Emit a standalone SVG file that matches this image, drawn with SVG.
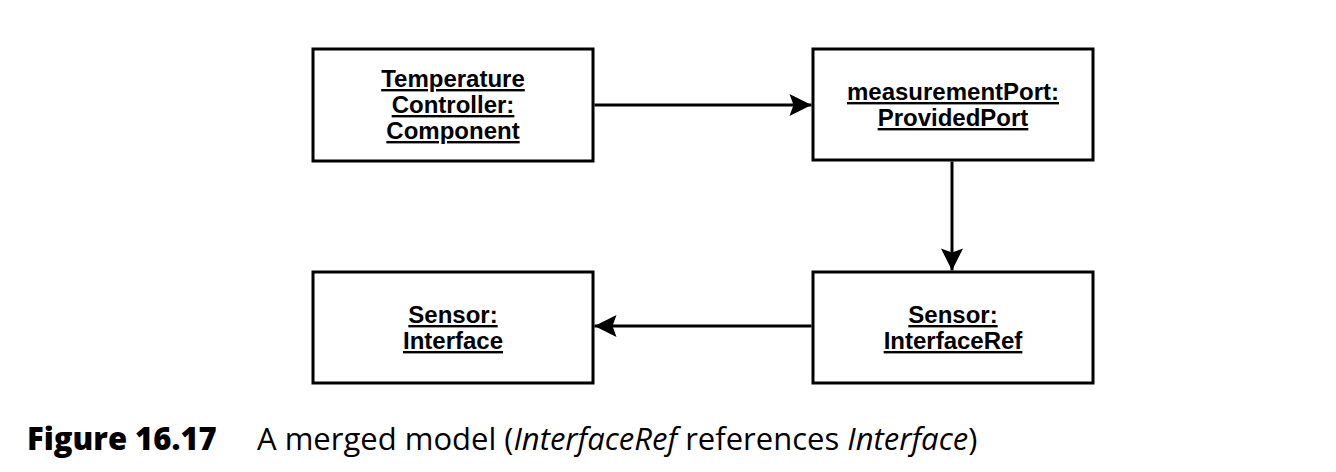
<svg xmlns="http://www.w3.org/2000/svg" width="1336" height="472" viewBox="0 0 1336 472">
<style>
.box{fill:#fff;stroke:#000;stroke-width:3}
.lbl{font-family:"Liberation Sans",Arial,sans-serif;font-weight:bold;font-size:24px;text-anchor:middle;text-decoration:underline;fill:#000}
.conn{stroke:#000;stroke-width:3;fill:none}
.cap{font-family:"Open Sans","Noto Sans",sans-serif;font-size:31px;fill:#000}
</style>
<defs>
<marker id="ah" markerUnits="userSpaceOnUse" markerWidth="24" markerHeight="24" viewBox="-23 -12 24 24" refX="0" refY="0" orient="auto">
<polygon points="0,0 -22,-11 -18,0 -22,11" fill="#000"/>
</marker>
</defs>
<g id="connectors">
<line class="conn" x1="594.5" y1="105" x2="811.5" y2="105" marker-end="url(#ah)"/>
<line class="conn" x1="952" y1="161.5" x2="952" y2="270.5" marker-end="url(#ah)"/>
<line class="conn" x1="811.5" y1="326" x2="594.5" y2="326" marker-end="url(#ah)"/>
</g>
<g id="n1">
<rect class="box" x="313" y="49" width="280" height="112"/>
<text class="lbl" x="453" y="87">Temperature</text>
<text class="lbl" x="453" y="113">Controller:</text>
<text class="lbl" x="453" y="139">Component</text>
</g>
<g id="n2">
<rect class="box" x="813" y="49" width="280" height="111"/>
<text class="lbl" x="953" y="100">measurementPort:</text>
<text class="lbl" x="953" y="126">ProvidedPort</text>
</g>
<g id="n3">
<rect class="box" x="313" y="272" width="280" height="111"/>
<text class="lbl" x="453" y="323">Sensor:</text>
<text class="lbl" x="453" y="349">Interface</text>
</g>
<g id="n4">
<rect class="box" x="813" y="272" width="280" height="111"/>
<text class="lbl" x="953" y="323">Sensor:</text>
<text class="lbl" x="953" y="349">InterfaceRef</text>
</g>
<g id="caption">
<text class="cap" y="450"><tspan x="27" font-weight="800">Figure 16.17</tspan><tspan x="257">A merged model (</tspan><tspan font-style="italic">InterfaceRef</tspan><tspan> references </tspan><tspan font-style="italic">Interface</tspan><tspan>)</tspan></text>
</g>
</svg>
